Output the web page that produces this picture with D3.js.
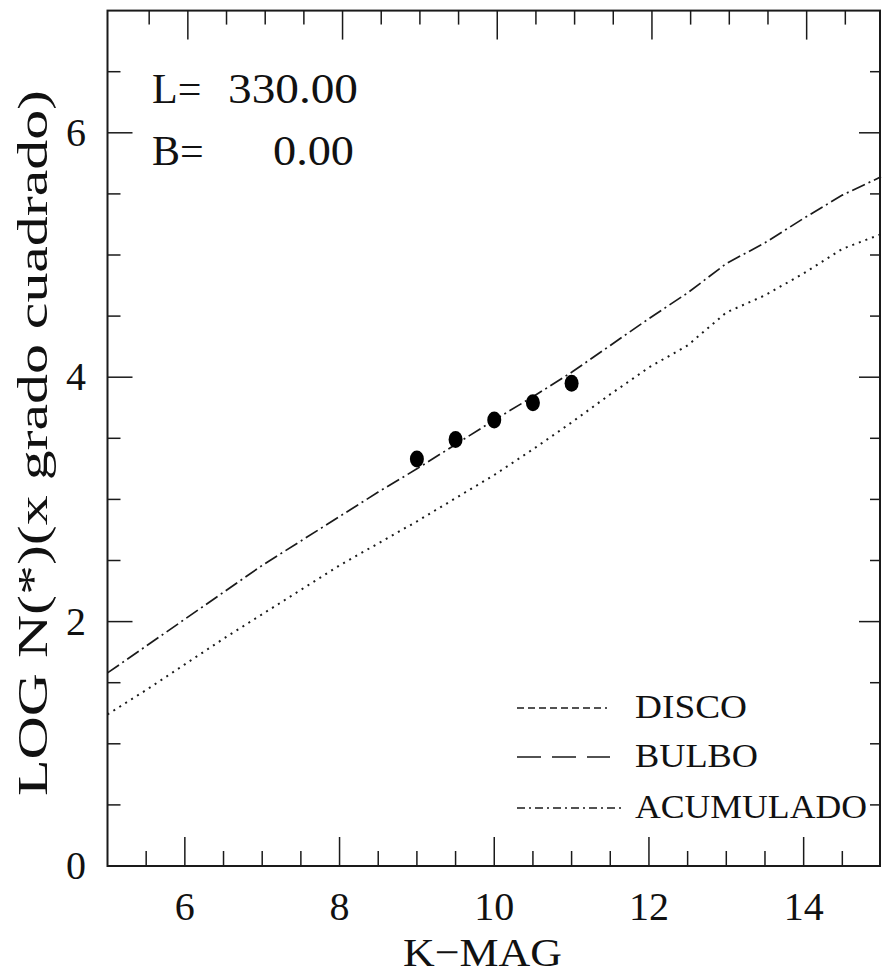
<!DOCTYPE html>
<html lang="es">
<head>
  <meta charset="utf-8" />
  <title>LOG N(*) vs K-MAG</title>
  <script type="text/javascript" src="https://cdn.jsdelivr.net/npm/d3@7/dist/d3.min.js"></script>
  <style type="text/css">
body { margin: 0; background: white; }
text { font-family: "Liberation Serif", "DejaVu Serif", serif; fill: #111; }
  </style>
</head>
<body>

<script type="text/javascript">

var kmag = [5, 5.5, 6, 6.5, 7, 7.5, 8, 8.5, 9, 9.5, 10,
            10.5, 11, 11.5, 12, 12.5, 13, 13.5, 14, 14.5, 15];
var disco = [1.24, 1.44, 1.65, 1.86, 2.06, 2.26, 2.46, 2.64, 2.82, 3.01, 3.20,
             3.41, 3.63, 3.86, 4.08, 4.26, 4.53, 4.67, 4.85, 5.05, 5.17];
var acumulado = [1.58, 1.80, 2.02, 2.24, 2.46, 2.66, 2.86, 3.06, 3.25, 3.45, 3.65,
                 3.84, 4.04, 4.26, 4.48, 4.69, 4.93, 5.10, 5.30, 5.49, 5.64];

// observed counts
var obsMag = [9, 9.5, 10, 10.5, 11];
var obsLogN = [3.33, 3.49, 3.65, 3.79, 3.95];

var xTicks = [6, 8, 10, 12, 14];
var yTicks = [0, 2, 4, 6];
var legendNames = ["DISCO", "BULBO", "ACUMULADO"];

var w = 882;
var h = 979;

var x = d3.scaleLinear().domain([5, 15]).range([107.5, 881]);
var y = d3.scaleLinear().domain([0, 7]).range([866, 10.6]);

var svg = d3.select("body")
    .append("svg")
    .attr("width", w)
    .attr("height", h);

var ink = "#1a1a1a";

// minor ticks every half unit, major on the labelled values
var xMinor = d3.range(5.5, 15, 0.5).filter(function(v) { return xTicks.indexOf(v) < 0; });
var yMinor = d3.range(0.5, 7, 0.5).filter(function(v) { return yTicks.indexOf(v) < 0; });

var ticks = svg.append("g").attr("stroke", ink).attr("stroke-width", 1.5);

// bottom and top
ticks.selectAll("line.xb").data(xTicks.concat(xMinor)).enter().append("line")
    .attr("x1", function(d) { return x(d); })
    .attr("x2", function(d) { return x(d); })
    .attr("y1", y(0))
    .attr("y2", function(d) { return y(0) - (xTicks.indexOf(d) >= 0 ? 29 : 15); });
ticks.selectAll("line.xt").data(xTicks.concat(xMinor)).enter().append("line")
    .attr("x1", function(d) { return x(d) + 3; })
    .attr("x2", function(d) { return x(d) + 3; })
    .attr("y1", y(7))
    .attr("y2", function(d) { return y(7) + (xTicks.indexOf(d) >= 0 ? 29 : 14); });

// left and right
ticks.selectAll("line.yl").data(yTicks.slice(1).concat(yMinor)).enter().append("line")
    .attr("x1", x(5))
    .attr("x2", function(d) { return x(5) + (yTicks.indexOf(d) >= 0 ? 25 : 13); })
    .attr("y1", function(d) { return y(d); })
    .attr("y2", function(d) { return y(d); });
ticks.selectAll("line.yr").data(yTicks.slice(1).concat(yMinor)).enter().append("line")
    .attr("x1", x(15))
    .attr("x2", function(d) { return x(15) - (yTicks.indexOf(d) >= 0 ? 22 : 11); })
    .attr("y1", function(d) { return y(d); })
    .attr("y2", function(d) { return y(d); });

// frame
svg.append("rect")
    .attr("x", x(5))
    .attr("y", y(7))
    .attr("width", x(15) - x(5) - 1)
    .attr("height", y(0) - y(7))
    .attr("fill", "none")
    .attr("stroke", ink)
    .attr("stroke-width", 2);

// tick labels
svg.append("g").selectAll("text").data(xTicks).enter().append("text")
    .attr("x", function(d) { return x(d); })
    .attr("y", 920)
    .attr("text-anchor", "middle")
    .attr("font-size", 40)
    .text(function(d) { return d; });

svg.append("g").selectAll("text").data(yTicks).enter().append("text")
    .attr("x", 86)
    .attr("y", function(d) { return y(d) + 13; })
    .attr("text-anchor", "end")
    .attr("font-size", 40)
    .text(function(d) { return d; });

// axis titles
svg.append("text")
    .attr("x", 403)
    .attr("y", 966)
    .attr("font-size", 41)
    .attr("textLength", 159)
    .attr("lengthAdjust", "spacingAndGlyphs")
    .text("K\u2212MAG");

svg.append("text")
    .attr("transform", "translate(47,796) rotate(-90)")
    .attr("font-size", 42)
    .attr("textLength", 706)
    .attr("lengthAdjust", "spacingAndGlyphs")
    .text("LOG N(*)(x grado cuadrado)");

// field coordinates
var info = svg.append("g").attr("font-size", 42);
info.append("text").attr("x", 152).attr("y", 103).text("L=");
info.append("text").attr("x", 228).attr("y", 103)
    .attr("textLength", 130).attr("lengthAdjust", "spacingAndGlyphs").text("330.00");
info.append("text").attr("x", 152).attr("y", 165).text("B=");
info.append("text").attr("x", 273).attr("y", 165)
    .attr("textLength", 81).attr("lengthAdjust", "spacingAndGlyphs").text("0.00");

// model curves
var line = d3.line()
    .x(function(d) { return x(d[0]); })
    .y(function(d) { return y(d[1]); });

svg.append("path")
    .datum(d3.zip(kmag, disco))
    .attr("d", line)
    .attr("fill", "none")
    .attr("stroke", ink)
    .attr("stroke-width", 2)
    .attr("stroke-dasharray", "2,5");

svg.append("path")
    .datum(d3.zip(kmag, acumulado))
    .attr("d", line)
    .attr("fill", "none")
    .attr("stroke", ink)
    .attr("stroke-width", 1.7)
    .attr("stroke-dasharray", "14,4,2,4");

// observed points
svg.append("g").selectAll("ellipse").data(d3.zip(obsMag, obsLogN)).enter().append("ellipse")
    .attr("cx", function(d) { return x(d[0]); })
    .attr("cy", function(d) { return y(d[1]); })
    .attr("rx", 7)
    .attr("ry", 8.5)
    .attr("fill", "#000");

// legend
var legendY = [708, 757, 808];
var legendDash = ["7,4", "24,11", "8,4,2,4"];
var legendEnd = [607, 610, 622];
var legendLen = [112, 123, 232];
var legend = svg.append("g");
legend.selectAll("line").data(legendNames).enter().append("line")
    .attr("x1", 517)
    .attr("x2", function(d, i) { return legendEnd[i]; })
    .attr("y1", function(d, i) { return legendY[i]; })
    .attr("y2", function(d, i) { return legendY[i]; })
    .attr("stroke", ink)
    .attr("stroke-width", 1.7)
    .attr("stroke-dasharray", function(d, i) { return legendDash[i]; });
legend.selectAll("text").data(legendNames).enter().append("text")
    .attr("x", 635)
    .attr("y", function(d, i) { return legendY[i] + 10; })
    .attr("font-size", 34)
    .attr("textLength", function(d, i) { return legendLen[i]; })
    .attr("lengthAdjust", "spacingAndGlyphs")
    .text(function(d) { return d; });

</script>

</body>
</html>
